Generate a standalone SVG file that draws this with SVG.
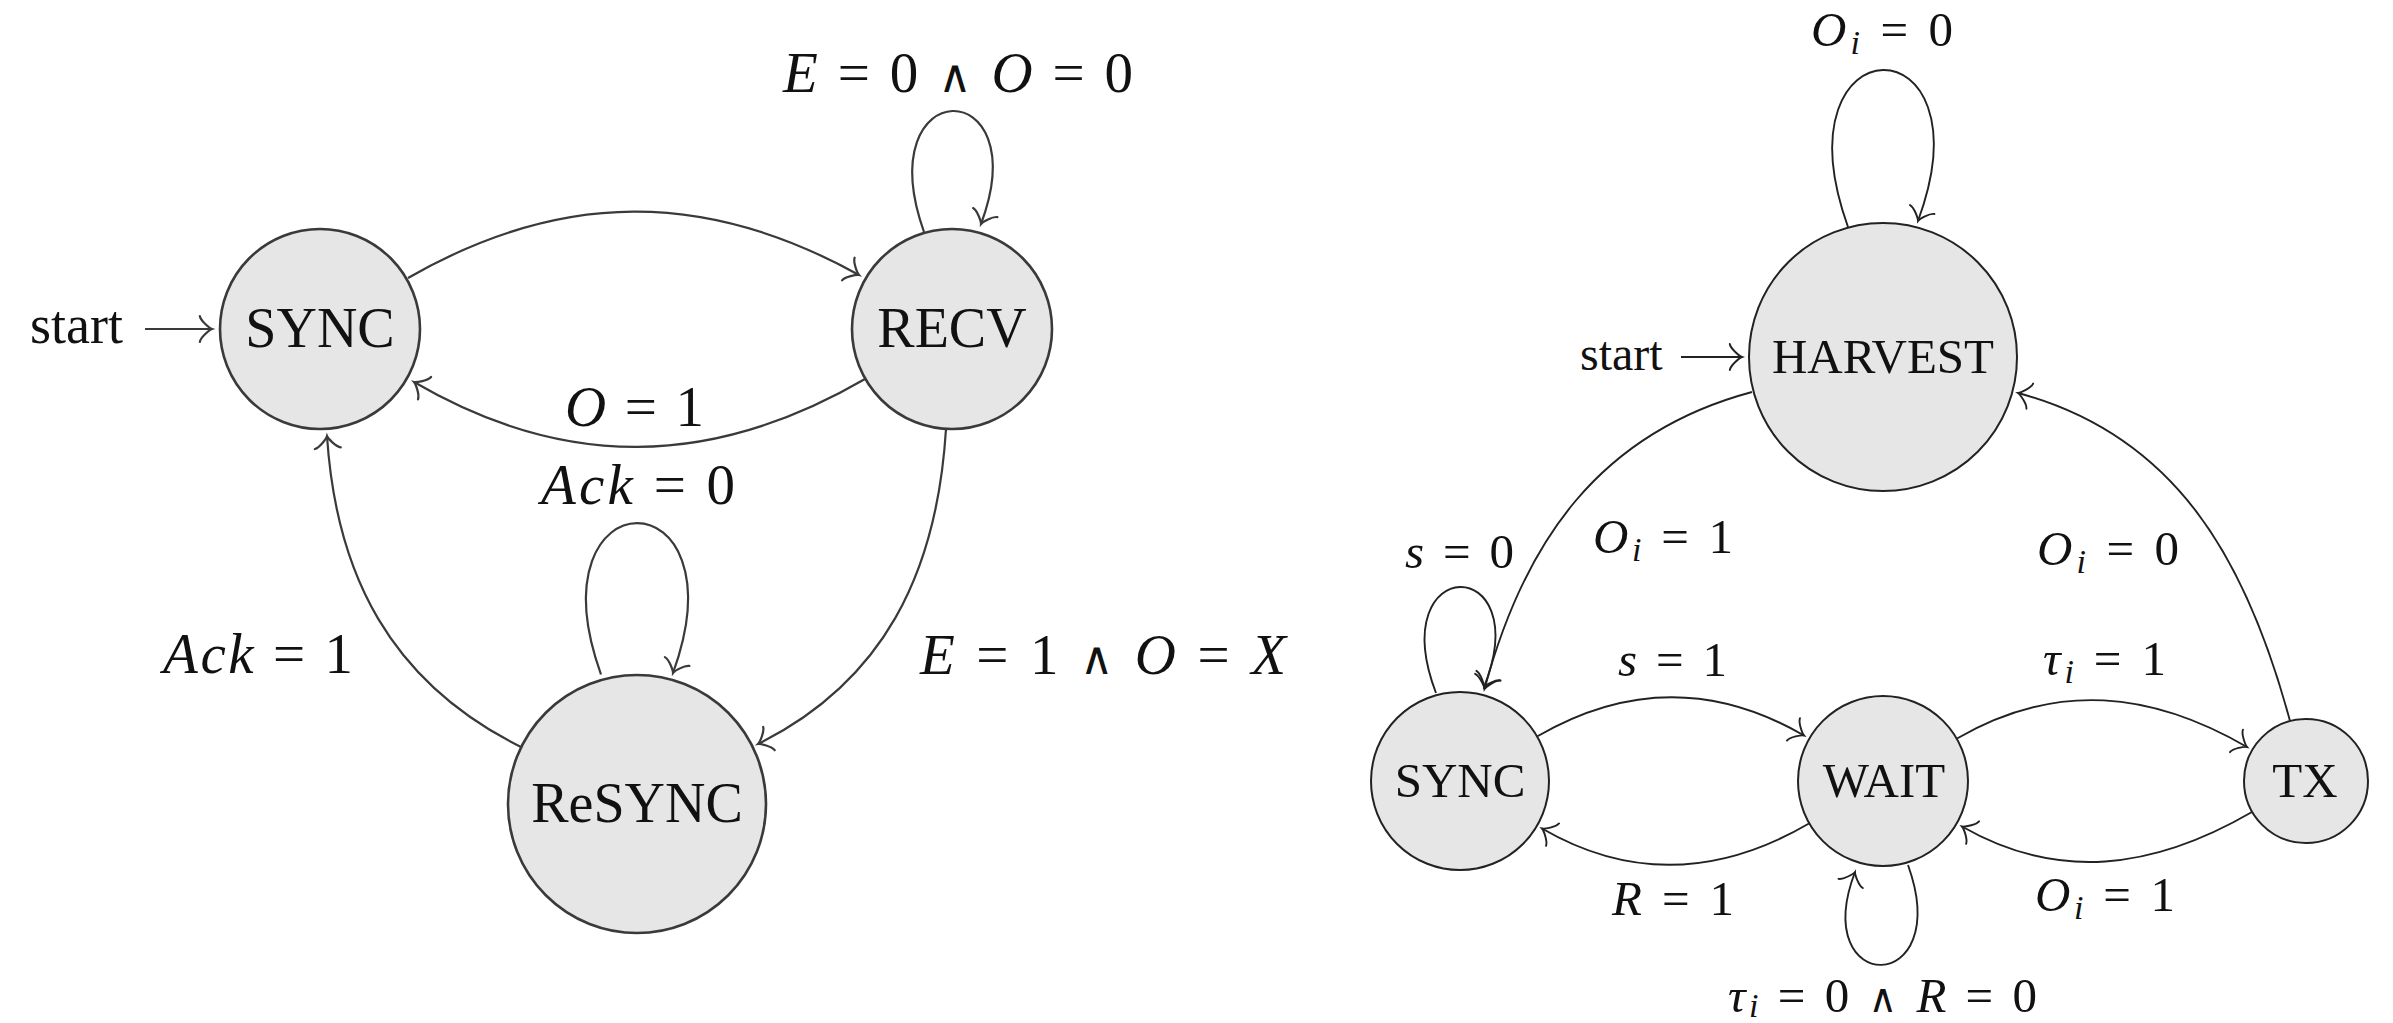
<svg xmlns="http://www.w3.org/2000/svg" width="2393" height="1023" viewBox="0 0 2393 1023">
  <defs>
    <style>
      .node circle { fill: #e6e6e6; }
      .nL circle { stroke: #3a3a3a; stroke-width: 2.6; }
      .nR circle { stroke: #222; stroke-width: 2; }
      .nl { font-family: "Liberation Serif", "Times New Roman", serif; text-anchor: middle; fill: #111; }
      .nL .nl { font-size: 56px; }
      .nR .nl { font-size: 49px; }
      .st { font-family: "Liberation Serif", "Times New Roman", serif; fill: #111; }
      .eL { fill: none; stroke: #3a3a3a; stroke-width: 2.2; marker-end: url(#arrL); }
      .eR { fill: none; stroke: #222; stroke-width: 1.9; marker-end: url(#arrR); }
      .m { font-family: "Liberation Serif", "Times New Roman", "DejaVu Serif", serif; fill: #111; }
      .mL { font-size: 57px; }
      .mR { font-size: 49px; }
      .v { font-style: italic; }
      .sub { font-style: italic; font-size: 34px; }
      .and { font-size: 0.8em; }
    </style>
    <!-- open curved "to" arrow tip, tip at the origin pointing along +x -->
    <marker id="arrL" markerUnits="userSpaceOnUse" viewBox="-16 -16 32 32" markerWidth="32" markerHeight="32" refX="0" refY="0" orient="auto" overflow="visible">
      <path d="M -12.2 13 C -11.4 8.1, -2.4 0.8, 0 0 C -2.4 -0.8, -11.4 -8.1, -12.2 -13" fill="none" stroke="#3a3a3a" stroke-width="2.2" stroke-linecap="round"/>
    </marker>
    <marker id="arrR" markerUnits="userSpaceOnUse" viewBox="-16 -16 32 32" markerWidth="32" markerHeight="32" refX="0" refY="0" orient="auto" overflow="visible">
      <path d="M -12.2 13 C -11.4 8.1, -2.4 0.8, 0 0 C -2.4 -0.8, -11.4 -8.1, -12.2 -13" fill="none" stroke="#222" stroke-width="1.9" stroke-linecap="round"/>
    </marker>
  </defs>

  <rect width="2393" height="1023" fill="#ffffff"/>

  <!-- connectors -->
  <g id="connectors">
    <!-- left automaton -->
    <path class="eL" d="M 145 329 L 212 329"/>
    <path class="eL" d="M 408 278 C 561 190, 706 190, 859 275"/>
    <path class="eL" d="M 865 379 C 710 469, 563 469, 414 382"/>
    <path class="eL" d="M 946 429 C 937 574, 883 682, 758 744"/>
    <path class="eL" d="M 521 747 C 390 682, 336 574, 327 436"/>
    <path class="eL" d="M 924 232 C 867.5 72, 1037.5 72, 981 224"/>
    <path class="eL" d="M 601 674.5 C 529 473, 745 473, 673 673"/>
    <!-- right automaton -->
    <path class="eR" d="M 1681 357 L 1742 357"/>
    <path class="eR" d="M 1752 392 C 1599 433, 1524 542, 1484.5 689"/>
    <path class="eR" d="M 2290 721 C 2246 558, 2175 435, 2018 393"/>
    <path class="eR" d="M 1537 736.5 C 1629 683, 1717 685, 1804 735.5"/>
    <path class="eR" d="M 1809 823.5 C 1717 877, 1629 879, 1542 828.5"/>
    <path class="eR" d="M 1957 738.5 C 2057 680.6, 2152 692, 2247 747"/>
    <path class="eR" d="M 2252 812 C 2152 870, 2057 881, 1962 826.5"/>
    <path class="eR" d="M 1848 227 C 1773.7 18.7, 1992.3 18.7, 1918 221"/>
    <path class="eR" d="M 1436 693 C 1382.7 552.7, 1537.3 552.7, 1484 687"/>
    <path class="eR" d="M 1908 865 C 1955.3 997, 1807.7 997, 1855 872"/>
  </g>

  <!-- transition labels -->
  <g id="edge-labels">
    <text class="st" x="30" y="343" font-size="54">start</text>
    <text class="m mL" x="783" y="92" textLength="350"><tspan class="v">E</tspan> = 0 <tspan class="and">∧</tspan> <tspan class="v">O</tspan> = 0</text>
    <text class="m mL" x="565" y="426" textLength="139"><tspan class="v">O</tspan> = 1</text>
    <text class="m mL" x="541" y="504" textLength="194"><tspan class="v">Ack</tspan> = 0</text>
    <text class="m mL" x="163" y="673" textLength="190"><tspan class="v">Ack</tspan> = 1</text>
    <text class="m mL" x="920" y="674" textLength="366"><tspan class="v">E</tspan> = 1 <tspan class="and">∧</tspan> <tspan class="v">O</tspan> = <tspan class="v">X</tspan></text>

    <text class="st" x="1580" y="370" font-size="48">start</text>
    <text class="m mR" x="1811" y="46" textLength="142"><tspan class="v">O</tspan><tspan class="sub" dy="8">i</tspan><tspan dy="-8"> = 0</tspan></text>
    <text class="m mR" x="1405" y="568" textLength="109"><tspan class="v">s</tspan> = 0</text>
    <text class="m mR" x="1593" y="553" textLength="140"><tspan class="v">O</tspan><tspan class="sub" dy="8">i</tspan><tspan dy="-8"> = 1</tspan></text>
    <text class="m mR" x="2037" y="565" textLength="142"><tspan class="v">O</tspan><tspan class="sub" dy="8">i</tspan><tspan dy="-8"> = 0</tspan></text>
    <text class="m mR" x="1618" y="676" textLength="109"><tspan class="v">s</tspan> = 1</text>
    <text class="m mR" x="2043" y="675" textLength="123"><tspan class="v">τ</tspan><tspan class="sub" dy="8">i</tspan><tspan dy="-8"> = 1</tspan></text>
    <text class="m mR" x="1612" y="915" textLength="122"><tspan class="v">R</tspan> = 1</text>
    <text class="m mR" x="2035" y="911" textLength="140"><tspan class="v">O</tspan><tspan class="sub" dy="8">i</tspan><tspan dy="-8"> = 1</tspan></text>
    <text class="m mR" x="1728" y="1012" textLength="309"><tspan class="v">τ</tspan><tspan class="sub" dy="5">i</tspan><tspan dy="-5"> = 0 </tspan><tspan class="and">∧</tspan> <tspan class="v">R</tspan> = 0</text>
  </g>

  <!-- left automaton states -->
  <g id="l-sync" class="node nL">
    <circle cx="320" cy="329" r="100"/>
    <text class="nl" x="320" y="347">SYNC</text>
  </g>
  <g id="l-recv" class="node nL">
    <circle cx="952" cy="329" r="100"/>
    <text class="nl" x="952" y="347">RECV</text>
  </g>
  <g id="l-resync" class="node nL">
    <circle cx="637" cy="804" r="129"/>
    <text class="nl" x="637" y="822">ReSYNC</text>
  </g>

  <!-- right automaton states -->
  <g id="r-harvest" class="node nR">
    <circle cx="1883" cy="357" r="134"/>
    <text class="nl" x="1883" y="373">HARVEST</text>
  </g>
  <g id="r-sync" class="node nR">
    <circle cx="1460" cy="781" r="89"/>
    <text class="nl" x="1460" y="797">SYNC</text>
  </g>
  <g id="r-wait" class="node nR">
    <circle cx="1883" cy="781" r="85"/>
    <text class="nl" x="1884" y="797">WAIT</text>
  </g>
  <g id="r-tx" class="node nR">
    <circle cx="2306" cy="781" r="62"/>
    <text class="nl" x="2305" y="797">TX</text>
  </g>
</svg>
